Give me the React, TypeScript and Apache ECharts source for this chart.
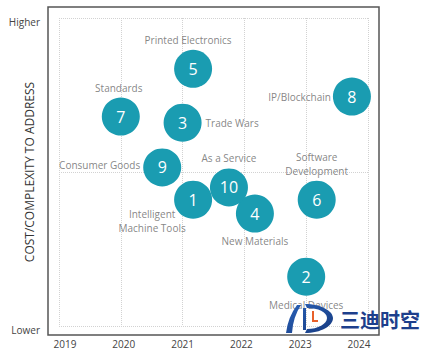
import React, { useEffect, useRef } from "react";
import * as echarts from "echarts";

const ids = ["1", "2", "3", "4", "5", "6", "7", "8", "9", "10"];
const names = [
  "Intelligent\nMachine Tools",
  "Medical Devices",
  "Trade Wars",
  "New Materials",
  "Printed Electronics",
  "Software\nDevelopment",
  "Standards",
  "IP/Blockchain",
  "Consumer Goods",
  "As a Service",
];
const years = [2021.17, 2023.0, 2021.0, 2022.17, 2021.17, 2023.17, 2020.0, 2023.74, 2020.67, 2021.75];
const costs = [0.82, 0.32, 1.32, 0.73, 1.67, 0.82, 1.36, 1.49, 1.03, 0.9];
const yearTicks = ["2019", "2020", "2021", "2022", "2023", "2024"];
const levelTicks = ["Lower", "", "Higher"];
const yAxisTitle = "COST/COMPLEXITY TO ADDRESS";
const brand = "三迪时空";

// label placement per bubble (styling, not data)
const labelPlacement: Record<string, any> = {
  "1": { position: "bottom", distance: 0, offset: [-41, -12] },
  "2": { position: "bottom", distance: 2 },
  "3": { position: "right", distance: 4 },
  "4": { position: "bottom", distance: 1 },
  "5": { position: "top", distance: 3, offset: [-5, 0] },
  "6": { position: "top", distance: 3 },
  "7": { position: "top", distance: 3, offset: [-2, 0] },
  "8": { position: "left", distance: 2 },
  "9": { position: "left", distance: 3, offset: [0, -2] },
  "10": { position: "top", distance: 3 },
};

const TEAL = "#1a9cb1";

echarts.graphic.registerShape(
  "logoBlue",
  echarts.graphic.extendPath(
    "M12 2 L16 2 Q8 14 7 30 L1 30 Q3 14 12 2 Z M18 5 L21 5 L21 27 L18 27 Z M20 1 C36 1 48 8 48 15 C48 23 36 30 20 30 L22 26 C33 26 42 21 42 15 C42 9 33 5 22 5 Z",
    {}
  )
);
echarts.graphic.registerShape(
  "logoOrange",
  echarts.graphic.extendPath("M27 8 L29 8 L29 17 L33 17 L33 19 L27 19 Z", {})
);

export default function App() {
  const ref = useRef<HTMLDivElement>(null);
  useEffect(() => {
    if (!ref.current) return;
    const chart = echarts.init(ref.current, null, { renderer: "svg" });
    const pts = ids.map((id, i) => ({ id, name: names[i], value: [years[i], costs[i]] }));
    chart.setOption({
      animation: false,
      backgroundColor: "#fff",
      grid: [
        { left: 48, top: 7, width: 331, height: 328, show: true, borderColor: "#555", borderWidth: 1.5, backgroundColor: "transparent", outerBoundsMode: "none", containLabel: false },
        { left: 59, top: 18, width: 309, height: 308, outerBoundsMode: "none", containLabel: false },
        { left: 65, top: 22, width: 294, height: 308, outerBoundsMode: "none", containLabel: false },
      ],
      xAxis: [
        { gridIndex: 0, show: false, type: "value", min: 0, max: 1 },
        {
          gridIndex: 1,
          type: "value",
          min: 2019,
          max: 2024,
          interval: 1,
          axisLine: { show: false },
          axisTick: { show: false },
          axisLabel: { show: false },
          splitLine: { show: true, lineStyle: { type: "dotted", color: "#d2d2d2", width: 1 } },
        },
        {
          gridIndex: 2,
          type: "category",
          data: yearTicks,
          boundaryGap: false,
          axisLine: { show: false },
          axisTick: { show: false },
          splitLine: { show: false },
          axisLabel: { margin: 8, color: "#444", fontSize: 10, lineHeight: 12, fontFamily: "Open Sans" },
        },
      ],
      yAxis: [
        { gridIndex: 0, show: false, type: "value", min: 0, max: 1 },
        {
          gridIndex: 1,
          type: "value",
          min: 0,
          max: 2,
          interval: 1,
          axisLine: { show: false },
          axisTick: { show: false },
          axisLabel: { show: false },
          splitLine: { show: true, lineStyle: { type: "dotted", color: "#d2d2d2", width: 1 } },
          name: yAxisTitle,
          nameLocation: "middle",
          nameRotate: 90,
          nameGap: 24,
          nameTextStyle: { color: "#333", fontSize: 12, fontFamily: "Open Sans" },
        },
        {
          gridIndex: 2,
          type: "category",
          data: levelTicks,
          boundaryGap: false,
          axisLine: { show: false },
          axisTick: { show: false },
          splitLine: { show: false },
          axisLabel: { margin: 25, color: "#444", fontSize: 10, fontFamily: "Open Sans" },
        },
      ],
      series: [
        {
          type: "scatter",
          xAxisIndex: 1,
          yAxisIndex: 1,
          symbolSize: 38,
          itemStyle: { color: TEAL, opacity: 1 },
          label: {
            show: true,
            position: "inside",
            formatter: (p: any) => p.data.id,
            color: "#fff",
            fontSize: 16,
            fontFamily: "Open Sans",
          },
          data: pts,
          z: 3,
        },
        {
          type: "scatter",
          xAxisIndex: 1,
          yAxisIndex: 1,
          symbolSize: 38,
          silent: true,
          itemStyle: { color: "rgba(0,0,0,0)" },
          label: {
            show: true,
            formatter: (p: any) => p.data.name,
            color: "#666",
            fontSize: 10,
            lineHeight: 14,
            fontFamily: "Open Sans",
          },
          data: pts.map((p) => ({ ...p, label: { ...labelPlacement[p.id] } })),
          z: 4,
        },
      ],
      graphic: [
        {
          type: "logoBlue",
          x: 285,
          y: 303,
          z: 100,
          style: {
            fill: new echarts.graphic.LinearGradient(0, 0, 1, 1, [
              { offset: 0, color: "#2a62b8" },
              { offset: 1, color: "#163a80" },
            ]),
          },
        },
        { type: "logoOrange", x: 285, y: 303, z: 101, style: { fill: "#e8602a" } },
        {
          type: "text",
          x: 340,
          y: 319,
          z: 100,
          style: {
            text: brand,
            fill: "#1d3f8c",
            font: "bold 20px 'Noto Sans CJK SC'",
            verticalAlign: "middle",
          },
        },
      ],
    });
    return () => chart.dispose();
  }, []);
  return <div ref={ref} style={{ position: "fixed", left: 0, top: 0, width: 437, height: 351 }} />;
}
